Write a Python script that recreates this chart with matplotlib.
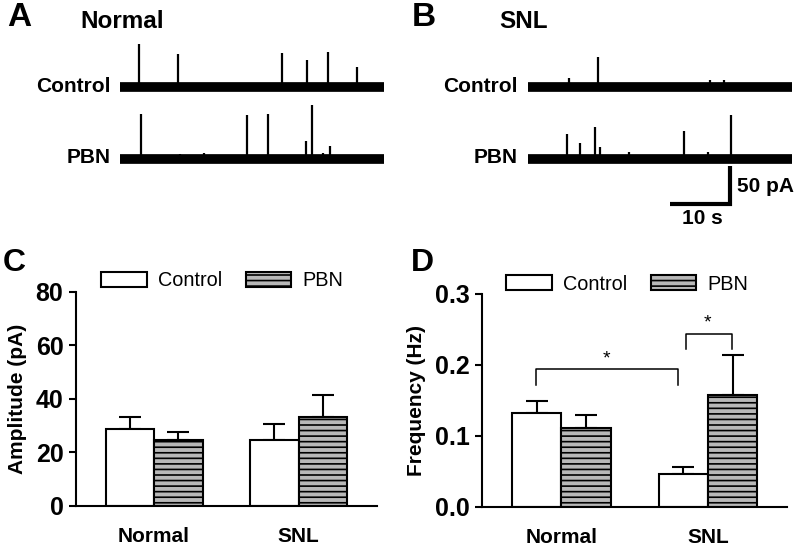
import matplotlib
matplotlib.use("Agg")
import matplotlib.pyplot as plt
import numpy as np

plt.rcParams['font.family'] = ['Liberation Sans', 'DejaVu Sans']
plt.rcParams['hatch.linewidth'] = 1.2

# ---- trace events (time in s, amplitude in pA) ----
trace_len = 44.0
normal_ctrl_t = [3.2, 9.7, 16.5, 27.0, 31.2, 34.7, 39.5]
normal_ctrl_a = [57, 43, 5, 45, 36, 46, 26]
normal_pbn_t = [3.5, 10.0, 14.0, 21.2, 24.7, 31.0, 32.0, 33.8, 35.0]
normal_pbn_a = [59, 7, 8, 58, 60, 24, 72, 8, 18]
snl_ctrl_t = [6.8, 11.7, 30.3, 32.7]
snl_ctrl_a = [12, 39, 10, 10]
snl_pbn_t = [6.5, 8.7, 11.2, 12.0, 16.8, 26.0, 30.0, 33.8]
snl_pbn_a = [33, 21, 43, 16, 9, 37, 9, 58]
pbn_offset = -95

# ---- bar data ----
groups = ['Normal', 'SNL']
amp_ctrl = [28.7, 24.8]
amp_ctrl_err = [4.7, 5.8]
amp_pbn = [24.5, 33.4]
amp_pbn_err = [3.0, 8.1]
freq_ctrl = [0.132, 0.047]
freq_ctrl_err = [0.017, 0.010]
freq_pbn = [0.111, 0.158]
freq_pbn_err = [0.018, 0.056]

fig = plt.figure(figsize=(8, 5.53), dpi=100)
W, H = 800, 553


def px(x, y):
    return x / W, 1 - y / H


def draw_trace(ax, ctrl_t, ctrl_a, pbn_t, pbn_a):
    for base, ts, amps in [(0, ctrl_t, ctrl_a), (pbn_offset, pbn_t, pbn_a)]:
        ax.plot([0, trace_len], [base, base], color='black', lw=7,
                solid_capstyle='butt')
        ax.vlines(ts, base, np.array(amps) + base, color='black', lw=1.6)
    ax.set_xlim(0, trace_len)
    ax.set_ylim(-168.4, 75)
    ax.axis('off')


axA = fig.add_axes([0.15, 0.611, 0.33, 0.3345])
draw_trace(axA, normal_ctrl_t, normal_ctrl_a, normal_pbn_t, normal_pbn_a)
axB = fig.add_axes([0.66, 0.611, 0.33, 0.3345])
draw_trace(axB, snl_ctrl_t, snl_ctrl_a, snl_pbn_t, snl_pbn_a)
# scale bar: 10 s x 50 pA
axB.plot([23.7, 33.7, 33.7], [-154, -154, -104], color='black', lw=3,
         solid_capstyle='butt', solid_joinstyle='miter', clip_on=False)

bold = dict(fontweight='bold')
fig.text(*px(7, 18), 'A', fontsize=24, va='center', **bold)
fig.text(*px(80, 21), 'Normal', fontsize=17.5, va='center', **bold)
fig.text(*px(111, 86), 'Control', fontsize=15, va='center', ha='right', **bold)
fig.text(*px(111, 157), 'PBN', fontsize=15, va='center', ha='right', **bold)
fig.text(*px(412, 18), 'B', fontsize=24, va='center', **bold)
fig.text(*px(499, 22), 'SNL', fontsize=17.5, va='center', **bold)
fig.text(*px(518, 86), 'Control', fontsize=15, va='center', ha='right', **bold)
fig.text(*px(518, 157), 'PBN', fontsize=15, va='center', ha='right', **bold)
fig.text(*px(737, 187), '50 pA', fontsize=15, va='center', **bold)
fig.text(*px(702, 219), '10 s', fontsize=15, va='center', ha='center', **bold)
fig.text(*px(3, 263), 'C', fontsize=23, va='center', **bold)
fig.text(*px(411, 263), 'D', fontsize=23, va='center', **bold)


def bar_panel(ax, ctrl, ctrl_err, pbn, pbn_err, ylim, yticks, ticklabels,
              ylabel, legend_pos):
    x = np.arange(len(groups))
    w = 0.336
    b1 = ax.bar(x - w / 2, ctrl, w, color='white', edgecolor='black',
                lw=1.5, label='Control', zorder=2)
    b2 = ax.bar(x + w / 2, pbn, w, color='#b8b8b8', edgecolor='black',
                lw=1.5, hatch='---', label='PBN', zorder=2)
    ax.errorbar(x - w / 2, ctrl, yerr=[np.zeros(len(ctrl)), ctrl_err],
                fmt='none', ecolor='black', elinewidth=1.5, capsize=8,
                capthick=1.5, zorder=1)
    ax.errorbar(x + w / 2, pbn, yerr=[np.zeros(len(pbn)), pbn_err],
                fmt='none', ecolor='black', elinewidth=1.5, capsize=8,
                capthick=1.5, zorder=1)
    ax.set_xlim(-0.54, 1.54)
    ax.set_ylim(*ylim)
    ax.set_yticks(yticks)
    ax.set_yticklabels(ticklabels, fontsize=18, fontweight='bold')
    ax.set_xticks(x)
    ax.set_xticklabels(groups, fontsize=15, fontweight='bold')
    ax.tick_params(axis='x', length=0, pad=15)
    ax.tick_params(axis='y', length=5, width=1.5, pad=4)
    ax.set_ylabel(ylabel, fontsize=15, fontweight='bold', labelpad=6)
    for s in ['top', 'right']:
        ax.spines[s].set_visible(False)
    for s in ['left', 'bottom']:
        ax.spines[s].set_linewidth(1.5)
    ax.legend(handles=[b1, b2], ncol=2, frameon=False, fontsize=14.3,
              handlelength=2.3, handleheight=0.75, handletextpad=0.55,
              columnspacing=1.2, loc='center',
              bbox_to_anchor=legend_pos, bbox_transform=fig.transFigure)


axC = fig.add_axes([0.095, 0.085, 0.376, 0.387])
bar_panel(axC, amp_ctrl, amp_ctrl_err, amp_pbn, amp_pbn_err, (0, 80),
          [0, 20, 40, 60, 80], ['0', '20', '40', '60', '80'],
          'Amplitude (pA)', px(222, 281))

axD = fig.add_axes([0.6025, 0.0832, 0.3815, 0.3852])
bar_panel(axD, freq_ctrl, freq_ctrl_err, freq_pbn, freq_pbn_err, (0, 0.3),
          [0, 0.1, 0.2, 0.3], ['0.0', '0.1', '0.2', '0.3'],
          'Frequency (Hz)', px(627, 284))

# significance brackets
axD.plot([-0.171, -0.171, 0.795, 0.795], [0.172, 0.194, 0.194, 0.172],
         color='black', lw=1.1)
axD.text(0.31, 0.197, '*', ha='center', va='bottom', fontsize=14)
axD.plot([0.849, 0.849, 1.164, 1.164], [0.222, 0.244, 0.244, 0.222],
         color='black', lw=1.1)
axD.text(1.0, 0.247, '*', ha='center', va='bottom', fontsize=14)

fig.savefig('out.png', dpi=100)
